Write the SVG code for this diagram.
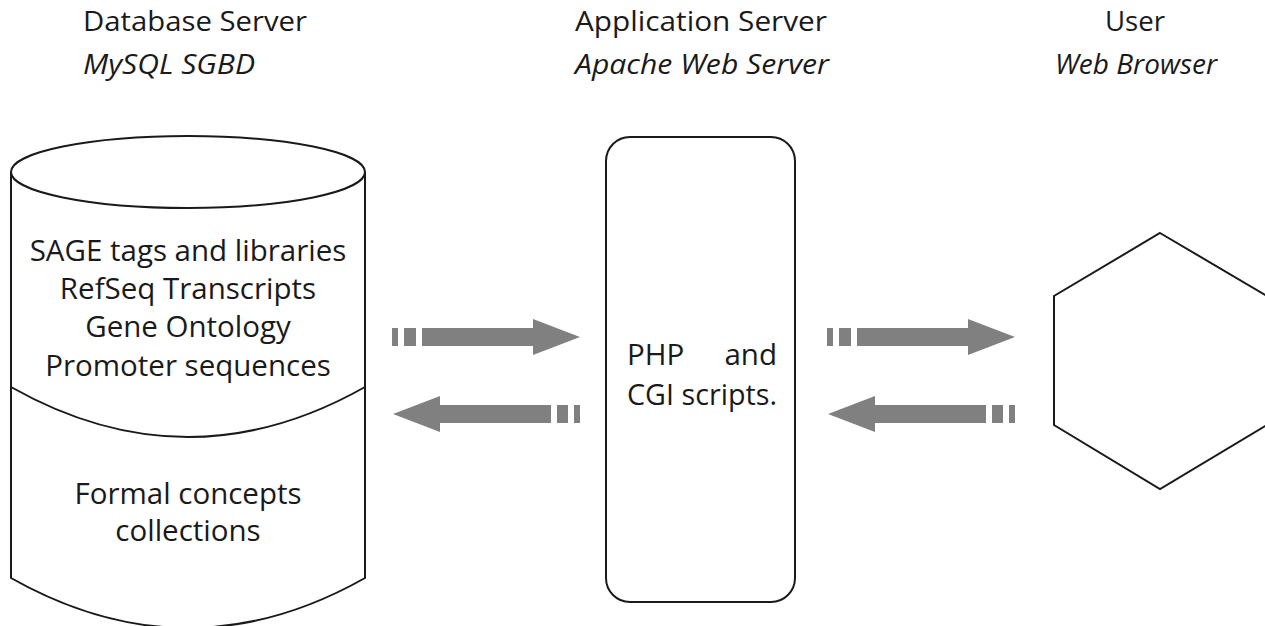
<svg xmlns="http://www.w3.org/2000/svg" width="1265" height="626" viewBox="0 0 1265 626">
<style>
.t{font-family:"Open Sans","Liberation Sans",sans-serif;fill:#1a1a1a}
.h{font-size:28px}
.i{font-style:italic}
.b{font-size:29.5px}
.s{fill:none;stroke:#1a1a1a;stroke-width:2}
.a{fill:#808080}
</style>
<rect width="1265" height="626" fill="#fff"/>
<g id="headers">
<text class="t h" x="83" y="31" textLength="224" lengthAdjust="spacingAndGlyphs">Database Server</text>
<text class="t h i" x="83" y="74" textLength="172" lengthAdjust="spacingAndGlyphs">MySQL SGBD</text>
<text class="t h" x="575" y="31" textLength="252" lengthAdjust="spacingAndGlyphs">Application Server</text>
<text class="t h i" x="575" y="74" textLength="254" lengthAdjust="spacingAndGlyphs">Apache Web Server</text>
<text class="t h" x="1105" y="31" textLength="60" lengthAdjust="spacingAndGlyphs">User</text>
<text class="t h i" x="1217" y="74" text-anchor="end">Web Browser</text>
</g>
<g id="database">
<path class="s" d="M11,172 L11,578 Q188,678 365,578 L365,172"/>
<ellipse class="s" cx="188" cy="172" rx="177" ry="36"/>
<path class="s" d="M11,387 Q188,487 365,387"/>
<g class="t b" text-anchor="middle">
<text x="188" y="261">SAGE tags and libraries</text>
<text x="188" y="299">RefSeq Transcripts</text>
<text x="188" y="337">Gene Ontology</text>
<text x="188" y="376">Promoter sequences</text>
<text x="188" y="504">Formal concepts</text>
<text x="188" y="541">collections</text>
</g>
</g>
<g id="appserver">
<rect class="s" x="606" y="137" width="189" height="465" rx="24"/>
<text class="t b"><tspan x="627" y="365">PHP</tspan><tspan x="777" y="365" text-anchor="end">and</tspan><tspan x="627" y="405" textLength="150" lengthAdjust="spacingAndGlyphs">CGI scripts.</tspan></text>
</g>
<g id="user">
<polygon class="s" points="1160,233 1267,296 1267,425 1160,489 1054,425 1054,296"/>
</g>
<g id="connectors" class="a">
<g id="db-to-app">
<rect x="392" y="328" width="6" height="18"/><rect x="404" y="328" width="12" height="18"/>
<polygon points="422,328 533,328 533,319 580,337 533,355 533,346 422,346"/>
</g>
<g id="app-to-db">
<polygon points="393,414 440,396 440,405 551,405 551,423 440,423 440,432"/>
<rect x="557" y="405" width="11" height="18"/><rect x="574" y="405" width="6" height="18"/>
</g>
<g id="app-to-user">
<rect x="827" y="328" width="6" height="18"/><rect x="839" y="328" width="12" height="18"/>
<polygon points="857,328 968,328 968,319 1015,337 968,355 968,346 857,346"/>
</g>
<g id="user-to-app">
<polygon points="828,414 875,396 875,405 986,405 986,423 875,423 875,432"/>
<rect x="992" y="405" width="11" height="18"/><rect x="1009" y="405" width="6" height="18"/>
</g>
</g>
</svg>
